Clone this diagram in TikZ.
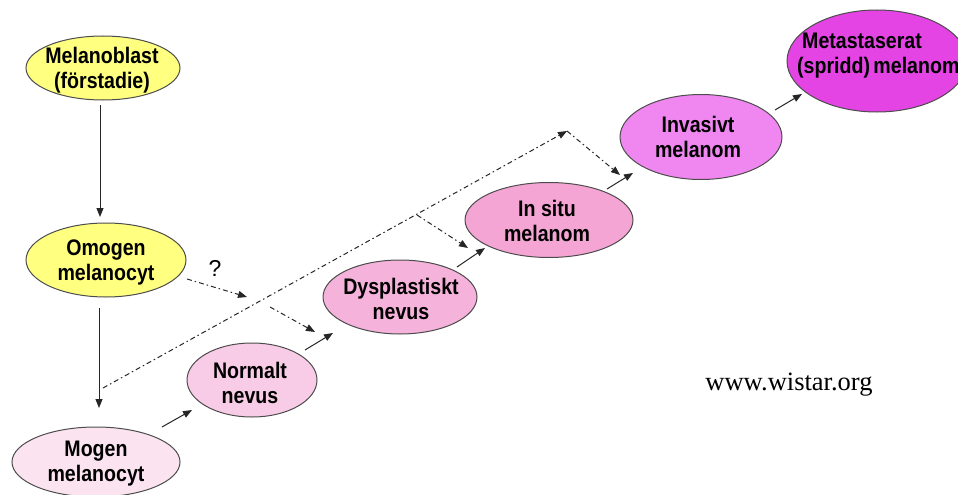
\documentclass[tikz,border=0pt]{standalone}
\usepackage{fontspec}
\setmainfont{Liberation Sans}
\newfontfamily\nodefont[FakeStretch=0.87]{Liberation Sans}
\newfontfamily\urlfont{Liberation Serif}
\usetikzlibrary{shapes.geometric,arrows.meta}
\definecolor{cyel}{RGB}{255,255,128}
\definecolor{cmogen}{RGB}{251,228,240}
\definecolor{cnorm}{RGB}{248,204,230}
\definecolor{cdysp}{RGB}{245,178,218}
\definecolor{cinsitu}{RGB}{245,165,212}
\definecolor{cinv}{RGB}{240,135,240}
\definecolor{cmeta}{RGB}{228,68,228}
\begin{document}
\begin{tikzpicture}[x=1pt,y=-1pt,
  ell/.style={ellipse, draw=black!70, line width=1pt, inner sep=0pt},
  txt/.style={font=\nodefont\bfseries\fontsize{22.5}{25}\selectfont, align=center, text=black, inner sep=0pt},
  arr/.style={-{Triangle[length=9pt,width=7pt]}, line width=1pt, draw=black!85},
  dd/.style={arr, dash pattern=on 5pt off 3pt on 1.5pt off 3pt}]
\useasboundingbox (0,0) rectangle (958,495);
% ellipses
\node[ell, fill=cyel, minimum width=154pt, minimum height=64pt] (mb) at (103,68) {};
\node[ell, fill=cyel, minimum width=160pt, minimum height=74pt] (om) at (106,260) {};
\node[ell, fill=cmogen, minimum width=168pt, minimum height=70pt] (mo) at (96,462) {};
\node[ell, fill=cnorm, minimum width=130pt, minimum height=74pt] (no) at (252,380) {};
\node[ell, fill=cdysp, minimum width=154pt, minimum height=74pt] (dy) at (400,297) {};
\node[ell, fill=cinsitu, minimum width=168pt, minimum height=75pt] (is) at (549,220) {};
\node[ell, fill=cinv, minimum width=162pt, minimum height=85pt] (iv) at (701,137) {};
\node[ell, fill=cmeta, minimum width=180pt, minimum height=102pt] (me) at (877,61) {};
% texts
\node[txt] (tmb) at (102,70) {Melanoblast\\(förstadie)};
\node[txt] (tom) at (106,262) {Omogen\\melanocyt};
\node[txt] (tmo) at (96,464) {Mogen\\melanocyt};
\node[txt] (tno) at (250,383) {Normalt\\nevus};
\node[txt] (tdy) at (401,299) {Dysplastiskt\\nevus};
\node[txt] (tis) at (547,221) {In situ\\melanom};
\node[txt] (tiv) at (698,137) {Invasivt\\melanom};
\node[txt, align=left, anchor=west] (tme) at (797,56) {\hspace*{5pt}Metastaserat\\(spridd)\hspace{-2pt} melanom};
\node[font=\fontsize{23}{24}\selectfont, inner sep=0pt] (qm) at (215,268) {?};
\node[font=\urlfont\fontsize{26.5}{28}\selectfont, inner sep=0pt] (url) at (789,385) {www.wistar.org};
% solid arrows
\draw[arr] ([shift={(-3,37)}]mb.center) -- ([shift={(-6,-43)}]om.center);
\draw[arr] ([shift={(-7,48)}]om.center) -- ([shift={(3,-54)}]mo.center);
\draw[arr] ([shift={(66,-35)}]mo.center) -- ([shift={(-60,30)}]no.center);
\draw[arr] ([shift={(53,-30)}]no.center) -- ([shift={(-67,36)}]dy.center);
\draw[arr] ([shift={(57,-30)}]dy.center) -- ([shift={(-64,28)}]is.center);
\draw[arr] ([shift={(58,-31)}]is.center) -- ([shift={(-68,36)}]iv.center);
\draw[arr] ([shift={(74,-27)}]iv.center) -- ([shift={(-75,33)}]me.center);
% dash-dot arrows
\coordinate (q1) at (247,297);
\coordinate (q2) at (270,307);
\coordinate (apex) at (567,131);
\coordinate (fork) at (417,215);
\draw[dd] ([shift={(81,19)}]om.center) -- (q1);
\draw[dd] (q2) -- ([shift={(-85,35)}]dy.center);
\draw[dd] ([shift={(7,-74)}]mo.center) -- (apex);
\draw[dd] (fork) -- ([shift={(-81,28)}]is.center);
\draw[dd] (apex) -- ([shift={(-81,38)}]iv.center);
\end{tikzpicture}
\end{document}
